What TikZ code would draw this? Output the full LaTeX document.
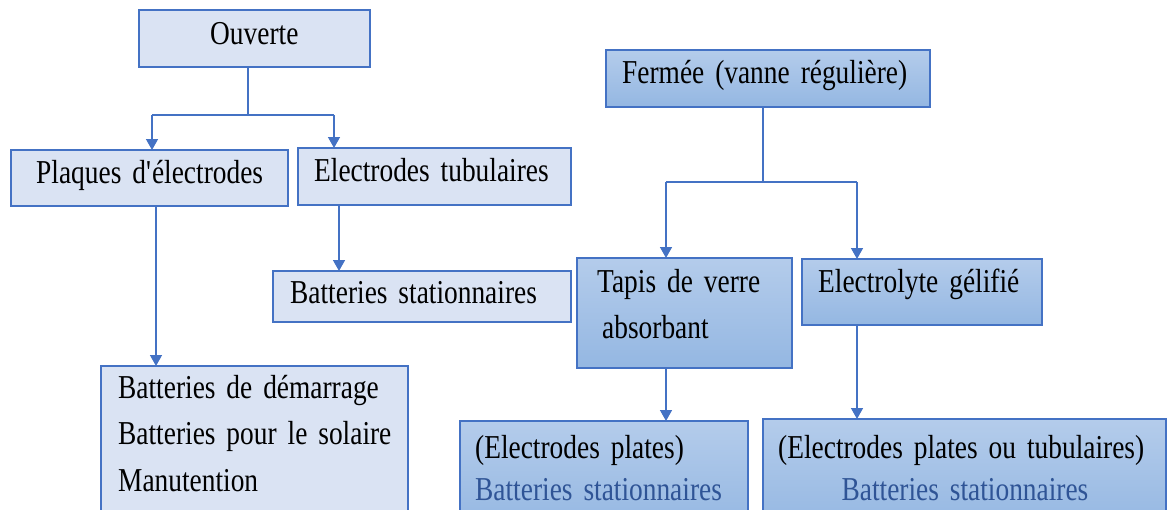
\documentclass[tikz,border=0pt]{standalone}
\usepackage{fontspec}
\setmainfont{Liberation Serif}[FakeStretch=0.82,WordSpace=1.6]
\usetikzlibrary{arrows.meta}
\definecolor{bordc}{HTML}{4472C4}
\definecolor{lightf}{HTML}{DAE3F3}
\definecolor{gtop}{HTML}{B4CCEB}
\definecolor{gbot}{HTML}{94B7E2}
\definecolor{bluetxt}{HTML}{2F5496}
\tikzset{
  lbox/.style={draw=bordc, line width=1.5pt, fill=lightf},
  gbox/.style={draw=bordc, line width=1.3pt, top color=gtop, bottom color=gbot},
  txt/.style={anchor=base west, inner sep=0pt, font=\fontsize{33.4pt}{40pt}\selectfont},
  ln/.style={draw=bordc, line width=1.5pt},
  ar/.style={ln, -{Triangle[width=12pt,length=11pt]}, shorten >=0pt}
}
\begin{document}
\begin{tikzpicture}[x=1pt,y=-1pt]
\useasboundingbox (0,0) rectangle (1169,509);
% boxes
\path[lbox] (139,10) rectangle (370,67) node[pos=.5,inner sep=0] (ouv) {};
\path[lbox] (11,150) rectangle (288,206) node[pos=.5,inner sep=0] (plq) {};
\path[lbox] (298,148) rectangle (571,205) node[pos=.5,inner sep=0] (tub) {};
\path[lbox] (273,271) rectangle (571,322) node[pos=.5,inner sep=0] (bst) {};
\path[lbox] (101,366) rectangle (408,530) node[pos=.5,inner sep=0] (bdm) {};
\path[gbox] (606,50) rectangle (930,107) node[pos=.5,inner sep=0] (fer) {};
\path[gbox] (577,258) rectangle (792,368) node[pos=.5,inner sep=0] (tap) {};
\path[gbox] (802,259) rectangle (1042,325) node[pos=.5,inner sep=0] (ele) {};
\path[gbox] (460,421) rectangle (748,530) node[pos=.5,inner sep=0] (ep1) {};
\path[gbox] (763,419) rectangle (1166,530) node[pos=.5,inner sep=0] (ep2) {};
% edge coordinates
\coordinate (ouvb) at (248,67);
\coordinate (oj) at (248,115);
\coordinate (a1) at (152,115);
\coordinate (a1e) at (152,150);
\coordinate (a2) at (334,115);
\coordinate (a2e) at (334,148);
\coordinate (a3s) at (339,205);
\coordinate (a3e) at (339,271);
\coordinate (a4s) at (156,206);
\coordinate (a4e) at (156,366);
\coordinate (ferb) at (763,107);
\coordinate (fj) at (763,182);
\coordinate (b1) at (666,182);
\coordinate (b1e) at (666,258);
\coordinate (b2) at (857,182);
\coordinate (b2e) at (857,259);
\coordinate (b3s) at (666,368);
\coordinate (b3e) at (666,421);
\coordinate (b4s) at (857,325);
\coordinate (b4e) at (857,419);
% connectors
\draw[ln] (ouvb) -- (oj);
\draw[ln] (a1) -- (a2);
\draw[ar] (a1) -- (a1e);
\draw[ar] (a2) -- (a2e);
\draw[ar] (a3s) -- (a3e);
\draw[ar] (a4s) -- (a4e);
\draw[ln] (ferb) -- (fj);
\draw[ln] (b1) -- (b2);
\draw[ar] (b1) -- (b1e);
\draw[ar] (b2) -- (b2e);
\draw[ar] (b3s) -- (b3e);
\draw[ar] (b4s) -- (b4e);
% texts
\node[txt] (t1) at (210,44) {Ouverte};
\node[txt] (t2) at (36,183) {Plaques d\textquotesingle électrodes};
\node[txt] (t3) at (314,181) {Electrodes tubulaires};
\node[txt] (t4) at (290,303) {Batteries stationnaires};
\node[txt] (t5) at (118,398) {Batteries de démarrage};
\node[txt] (t6) at (118,444) {Batteries pour le solaire};
\node[txt] (t7) at (118,491) {Manutention};
\node[txt] (t8) at (622,83) {Fermée (vanne régulière)};
\node[txt] (t9) at (597,292) {Tapis de verre};
\node[txt] (t10) at (602,338) {absorbant};
\node[txt] (t11) at (818,292) {Electrolyte gélifié};
\node[txt] (t12) at (475,458) {(Electrodes plates)};
\node[txt, text=bluetxt] (t13) at (475,500) {Batteries stationnaires};
\node[txt] (t14) at (778,458) {(Electrodes plates ou tubulaires)};
\node[txt, text=bluetxt, anchor=base] (t15) at (965,500) {Batteries stationnaires};
\end{tikzpicture}
\end{document}
